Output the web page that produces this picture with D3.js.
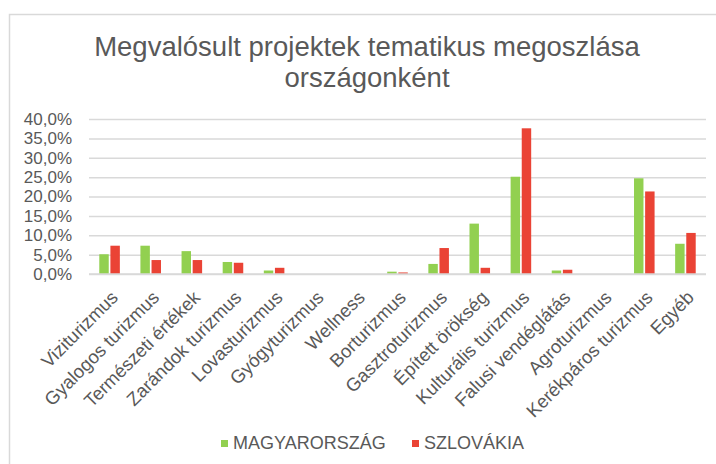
<!DOCTYPE html>
<html>
<head>
<meta charset="utf-8">
<script src="https://cdn.jsdelivr.net/npm/d3@7"></script>
<style>
  body { margin: 0; background: #fff; }
  text { font-family: "Liberation Sans", Arial, sans-serif; fill: #595959; }
</style>
</head>
<body>
<svg id="chart" width="716" height="464"></svg>
<script>
// data (shares, 0..1)
const categories = [
  'Viziturizmus', 'Gyalogos turizmus', 'Természeti értékek', 'Zarándok turizmus',
  'Lovasturizmus', 'Gyógyturizmus', 'Wellness', 'Borturizmus', 'Gasztroturizmus',
  'Épített örökség', 'Kulturális turizmus', 'Falusi vendéglátás', 'Agroturizmus',
  'Kerékpáros turizmus', 'Egyéb'
];
const seriesNames = ['MAGYARORSZÁG', 'SZLOVÁKIA'];
const hungary = [0.051, 0.073, 0.059, 0.031, 0.009, 0, 0, 0.006, 0.026, 0.130, 0.251, 0.009, 0, 0.247, 0.078];
const slovakia = [0.073, 0.036, 0.036, 0.029, 0.016, 0, 0, 0.004, 0.067, 0.016, 0.376, 0.011, 0, 0.213, 0.106];
const yTicks = [0, 0.05, 0.10, 0.15, 0.20, 0.25, 0.30, 0.35, 0.40];
const colors = ['#92d050', '#ea4335'];

const svg = d3.select('#chart');

// outer chart border (runs off the right and bottom)
svg.append('rect')
    .attr('x', 9.5).attr('y', 14.5)
    .attr('width', 760).attr('height', 500)
    .attr('fill', 'none')
    .attr('stroke', '#d9d9d9')
    .attr('stroke-width', 1.5);

// title
const title = svg.append('text')
    .attr('text-anchor', 'middle')
    .style('font-size', '27.5px');
title.append('tspan').attr('x', 367).attr('y', 56).text('Megvalósult projektek tematikus megoszlása');
title.append('tspan').attr('x', 367).attr('y', 87).text('országonként');

const x = d3.scaleBand()
    .domain(categories)
    .range([89, 706])
    .paddingInner(0.5)
    .paddingOuter(0.25);

const xSub = d3.scaleBand()
    .domain(seriesNames)
    .range([0, x.bandwidth()])
    .paddingInner(0.15);

const y = d3.scaleLinear()
    .domain([0, 0.40])
    .range([274, 119]);

const fmt = v => d3.format('.1%')(v).replace('.', ',');

// gridlines + y labels
const yAxis = d3.axisLeft(y)
    .tickValues(yTicks)
    .tickSize(-(706 - 89))
    .tickPadding(17)
    .tickFormat(fmt);

const gy = svg.append('g')
    .attr('transform', 'translate(89,0)')
    .call(yAxis);
gy.select('.domain').remove();
gy.selectAll('.tick line').attr('stroke', '#d9d9d9').attr('stroke-width', 1.5);
gy.selectAll('.tick text')
    .style('font-size', '17px')
    .attr('fill', '#595959');

// bars
const data = categories.map((c, i) => ({ cat: c, values: [hungary[i], slovakia[i]] }));

const groups = svg.append('g')
    .selectAll('g')
    .data(data)
    .join('g')
    .attr('transform', d => `translate(${x(d.cat)},0)`);

groups.selectAll('rect')
    .data(d => d.values.map((v, k) => ({ name: seriesNames[k], v, k })))
    .join('rect')
    .attr('x', d => xSub(d.name))
    .attr('width', xSub.bandwidth())
    .attr('y', d => y(d.v))
    .attr('height', d => y(0) - y(d.v))
    .attr('fill', d => colors[d.k]);

// x axis line
svg.append('line')
    .attr('x1', 89).attr('x2', 706)
    .attr('y1', y(0)).attr('y2', y(0))
    .attr('stroke', '#d9d9d9')
    .attr('stroke-width', 1.5);

// rotated category labels
svg.append('g')
    .selectAll('text')
    .data(categories)
    .join('text')
    .attr('text-anchor', 'end')
    .attr('dy', '0.35em')
    .attr('transform', d => `translate(${x(d) + x.bandwidth() / 2 + 5},${y(0) + 20}) rotate(-45)`)
    .style('font-size', '18.5px')
    .text(d => d);

// legend
const legendX = [221, 412];
const legend = svg.append('g')
    .selectAll('g')
    .data(seriesNames)
    .join('g')
    .attr('transform', (d, i) => `translate(${legendX[i]},440)`);

legend.append('rect')
    .attr('width', 7).attr('height', 7)
    .attr('fill', (d, i) => colors[i]);

legend.append('text')
    .attr('x', 12)
    .attr('y', 9)
    .style('font-size', '18px')
    .text(d => d);
</script>
</body>
</html>
